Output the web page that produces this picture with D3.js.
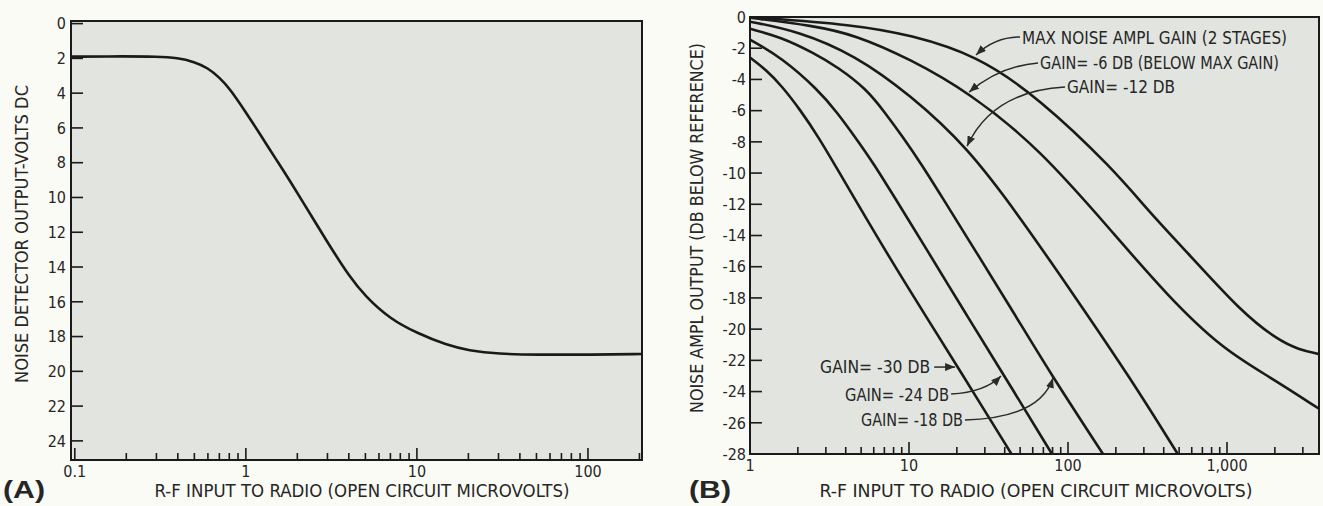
<!DOCTYPE html>
<html>
<head>
<meta charset="utf-8">
<script src="https://cdn.jsdelivr.net/npm/d3@7"></script>
<style>
  body { margin: 0; background: #fbfbf6; }
  svg { display: block; }
  text { font-family: "Liberation Sans Narrow", "DejaVu Sans Condensed", "Arial Narrow", sans-serif; fill: #262626; }
</style>
</head>
<body>
<div id="chart"></div>
<script>
// ---- panel (A): noise detector output vs r-f input
var detInput = [0.095, 0.2, 0.3, 0.4, 0.5, 0.6, 0.7, 0.8, 1.0, 1.2, 1.5, 1.8, 2.5, 3.1, 4, 5, 7, 10, 15, 20, 30, 50, 100, 207];
var detVolts = [1.9, 1.88, 1.9, 1.97, 2.2, 2.55, 3.1, 3.7, 5.1, 6.3, 7.8, 9.0, 11.3, 12.8, 14.5, 15.7, 17.0, 17.8, 18.5, 18.8, 19.0, 19.05, 19.05, 19.0];
var detVoltTicks = [0, 2, 4, 6, 8, 10, 12, 14, 16, 18, 20, 22, 24];
var detVoltLabels = ["0", "2", "4", "6", "8", "10", "12", "14", "16", "18", "20", "22", "24"];
var detInputTicks = [0.1, 1, 10, 100];
var detInputLabels = ["0.1", "1", "10", "100"];

// ---- panel (B): noise amplifier output for several gain settings
var gainMaxX = [1, 4.6, 10.2, 26.6, 65.8, 191, 325, 553, 1230, 2090, 2820, 3790];
var gainMaxDb = [0, -0.5, -1.15, -2.44, -5.2, -9.7, -12.5, -15.0, -18.9, -20.7, -21.3, -21.6];
var gain6X = [1, 2.5, 4.6, 10.2, 23.9, 65.8, 191, 425, 944, 1890, 3790];
var gain6Db = [-0.05, -0.55, -1.15, -2.7, -4.84, -8.4, -13.8, -17.9, -21.3, -23.1, -25.1];
var gain12X = [1, 2, 4.6, 10.2, 23.3, 50.5, 112, 249, 490];
var gain12Db = [-0.3, -0.9, -2.45, -5.0, -8.33, -12.9, -18.0, -23.2, -28];
var gain18X = [1, 1.58, 2.51, 3.55, 5.38, 7.03, 9.16, 12.0, 15.6, 26.6, 45.3, 77.1, 166];
var gain18Db = [-0.75, -1.3, -2.3, -3.2, -4.6, -6.1, -7.7, -9.45, -11.3, -15.1, -18.9, -22.8, -28];
var gain24X = [1, 1.58, 2.7, 3.52, 4.59, 6.0, 7.83, 13.3, 22.7, 38.7, 79.3];
var gain24Db = [-1.45, -2.6, -4.7, -6.1, -7.7, -9.4, -11.3, -15.1, -19.0, -22.8, -28];
var gain30X = [1, 1.25, 1.58, 2.07, 2.7, 3.52, 4.59, 7.83, 13.3, 19.9, 44.1];
var gain30Db = [-2.6, -3.35, -4.4, -5.95, -7.7, -9.7, -11.7, -15.7, -19.46, -22.3, -28];
var amplDbTicks = [0, -2, -4, -6, -8, -10, -12, -14, -16, -18, -20, -22, -24, -26, -28];
var amplDbLabels = ["0", "-2", "-4", "-6", "-8", "-10", "-12", "-14", "-16", "-18", "-20", "-22", "-24", "-26", "-28"];
var amplInputTicks = [1, 10, 100, 1000];
var amplInputLabels = ["1", "10", "100", "1,000"];

var W = 1323, H = 506;
var ink = "#1a1a1a";

var svg = d3.select("#chart").append("svg")
    .attr("width", W)
    .attr("height", H);

var defs = svg.append("defs");
defs.append("marker")
    .attr("id", "arrow")
    .attr("viewBox", "0 0 10 8")
    .attr("refX", 10).attr("refY", 4)
    .attr("markerUnits", "userSpaceOnUse")
    .attr("markerWidth", 10).attr("markerHeight", 8)
    .attr("orient", "auto")
  .append("path")
    .attr("d", "M0,0L10,4L0,8z")
    .attr("fill", "#2a2a2a");

var boxA = {x0: 71, x1: 642, y0: 21, y1: 460};
var boxB = {x0: 750, x1: 1319, y0: 17, y1: 454};

var xA = d3.scaleLog().domain([0.095, 207]).range([boxA.x0, boxA.x1]);
var yA = d3.scaleLinear().domain([-0.15, 25.1]).range([boxA.y0, boxA.y1]);
var xB = d3.scaleLog().domain([1, 3790]).range([boxB.x0, boxB.x1]);
var yB = d3.scaleLinear().domain([0, -28]).range([boxB.y0, boxB.y1]);

function isDecade(t) {
  var l = Math.log10(t);
  return Math.abs(l - Math.round(l)) < 1e-9;
}

// background, ticks and labels of one panel
function drawPanel(box, x, y, yTicks, yLabels, xTicks, xLabels, yLabelX) {
  svg.append("rect")
      .attr("x", box.x0).attr("y", box.y0)
      .attr("width", box.x1 - box.x0).attr("height", box.y1 - box.y0)
      .attr("fill", "#e2e4e0");

  var g = svg.append("g");

  // left ticks, pointing inward
  g.selectAll("line.yt")
    .data(yTicks)
    .enter().append("line")
      .attr("x1", box.x0).attr("x2", box.x0 + 12)
      .attr("y1", function(d) { return y(d); })
      .attr("y2", function(d) { return y(d); })
      .attr("stroke", ink).attr("stroke-width", 1.6);

  g.selectAll("text.yl")
    .data(yTicks)
    .enter().append("text")
      .attr("x", yLabelX)
      .attr("y", function(d) { return y(d); })
      .attr("dy", "0.36em")
      .attr("text-anchor", "end")
      .style("font-size", "16px")
      .text(function(d, i) { return yLabels[i]; });

  // bottom ticks: every 1..9 multiple, decades longer
  var minor = x.ticks().filter(function(t) { return x(t) > box.x0 + 1 && x(t) < box.x1 - 1; });
  g.selectAll("line.xt")
    .data(minor)
    .enter().append("line")
      .attr("x1", function(d) { return x(d); })
      .attr("x2", function(d) { return x(d); })
      .attr("y1", box.y1)
      .attr("y2", function(d) { return box.y1 - (isDecade(d) ? 12 : 7); })
      .attr("stroke", ink).attr("stroke-width", 1.6);

  g.selectAll("text.xl")
    .data(xTicks)
    .enter().append("text")
      .attr("x", function(d) { return x(d); })
      .attr("y", box.y1 + 17)
      .attr("text-anchor", "middle")
      .style("font-size", "16px")
      .text(function(d, i) { return xLabels[i]; });
}

function drawFrame(box) {
  svg.append("rect")
      .attr("x", box.x0).attr("y", box.y0)
      .attr("width", box.x1 - box.x0).attr("height", box.y1 - box.y0)
      .attr("fill", "none")
      .attr("stroke", ink).attr("stroke-width", 2);
}

drawPanel(boxA, xA, yA, detVoltTicks, detVoltLabels, detInputTicks, detInputLabels, 66);
drawPanel(boxB, xB, yB, amplDbTicks, amplDbLabels, amplInputTicks, amplInputLabels, 746);

// ---- curves (smoothed through the read-off points)
var lineA = d3.line()
    .x(function(d) { return xA(d[0]); })
    .y(function(d) { return yA(d[1]); })
    .curve(d3.curveBasis);

svg.append("path")
    .datum(d3.zip(detInput, detVolts))
    .attr("d", lineA)
    .attr("fill", "none")
    .attr("stroke", ink)
    .attr("stroke-width", 2.6);

var lineB = d3.line()
    .x(function(d) { return xB(d[0]); })
    .y(function(d) { return yB(d[1]); })
    .curve(d3.curveBasis);

var gainSeries = [
  d3.zip(gainMaxX, gainMaxDb),
  d3.zip(gain6X, gain6Db),
  d3.zip(gain12X, gain12Db),
  d3.zip(gain18X, gain18Db),
  d3.zip(gain24X, gain24Db),
  d3.zip(gain30X, gain30Db)
];

defs.append("clipPath").attr("id", "clipB")
  .append("rect")
    .attr("x", boxB.x0).attr("y", boxB.y0)
    .attr("width", boxB.x1 - boxB.x0).attr("height", boxB.y1 - boxB.y0);

svg.append("g")
    .attr("clip-path", "url(#clipB)")
  .selectAll("path")
  .data(gainSeries)
  .enter().append("path")
    .attr("d", lineB)
    .attr("fill", "none")
    .attr("stroke", ink)
    .attr("stroke-width", 2.6);

drawFrame(boxA);
drawFrame(boxB);

// ---- curve labels with leader arrows (anchors in data units)
var notes = [
  {text: "MAX NOISE AMPL GAIN (2 STAGES)", at: [51.4, -1.35], len: 265, from: [49.9, -1.28], via: [34.8, -1.28], to: [26.4, -2.43]},
  {text: "GAIN= -6 DB (BELOW MAX GAIN)", at: [66.7, -2.95], len: 239, from: [64.8, -2.95], via: [37.4, -3.14], to: [23.9, -4.81]},
  {text: "GAIN= -12 DB", at: [98.6, -4.49], len: 108, from: [95.7, -4.49], via: [33.5, -4.75], to: [23.2, -8.27]},
  {text: "GAIN= -30 DB", at: [2.76, -22.43], len: 110, from: [14.4, -22.43], via: null, to: [19.5, -22.43]},
  {text: "GAIN= -24 DB", at: [3.96, -24.22], len: 104, from: [18.4, -24.16], via: [30.1, -24.03], to: [37.9, -23.0]},
  {text: "GAIN= -18 DB", at: [4.99, -25.82], len: 102, from: [22.5, -25.82], via: [66.7, -25.69], to: [80.5, -23.13]}
];

var noteG = svg.append("g");
notes.forEach(function(n) {
  var p0 = [xB(n.from[0]), yB(n.from[1])];
  var p2 = [xB(n.to[0]), yB(n.to[1])];
  var path = d3.path();
  path.moveTo(p0[0], p0[1]);
  if (n.via) {
    path.quadraticCurveTo(xB(n.via[0]), yB(n.via[1]), p2[0], p2[1]);
  } else {
    path.lineTo(p2[0], p2[1]);
  }
  noteG.append("path")
      .attr("d", path.toString())
      .attr("fill", "none")
      .attr("stroke", "#2a2a2a")
      .attr("stroke-width", 1.5)
      .attr("marker-end", "url(#arrow)");

  noteG.append("text")
      .attr("x", xB(n.at[0]))
      .attr("y", yB(n.at[1]))
      .attr("dy", "0.36em")
      .attr("textLength", n.len)
      .attr("lengthAdjust", "spacingAndGlyphs")
      .style("font-size", "17px")
      .text(n.text);
});

// ---- axis titles and panel letters
function title(txt, cx, cy, len, rotate) {
  svg.append("text")
      .attr("transform", "translate(" + cx + "," + cy + ")" + (rotate ? "rotate(-90)" : ""))
      .attr("text-anchor", "middle")
      .attr("dy", "0.36em")
      .attr("textLength", len)
      .attr("lengthAdjust", "spacingAndGlyphs")
      .style("font-size", "17px")
      .text(txt);
}

title("NOISE DETECTOR OUTPUT-VOLTS DC", 22, 234, 298, true);
title("R-F INPUT TO RADIO (OPEN CIRCUIT MICROVOLTS)", 362, 491, 415, false);
title("NOISE AMPL OUTPUT (DB BELOW REFERENCE)", 697, 228, 370, true);
title("R-F INPUT TO RADIO (OPEN CIRCUIT MICROVOLTS)", 1036, 491, 433, false);

svg.selectAll("text.panel")
  .data([["(A)", 3], ["(B)", 689]])
  .enter().append("text")
    .attr("x", function(d) { return d[1]; })
    .attr("y", 498)
    .attr("textLength", 42)
    .attr("lengthAdjust", "spacingAndGlyphs")
    .style("font-family", "'Liberation Sans', Arial, sans-serif")
    .style("font-weight", "bold")
    .style("font-size", "23px")
    .text(function(d) { return d[0]; });
</script>
</body>
</html>
